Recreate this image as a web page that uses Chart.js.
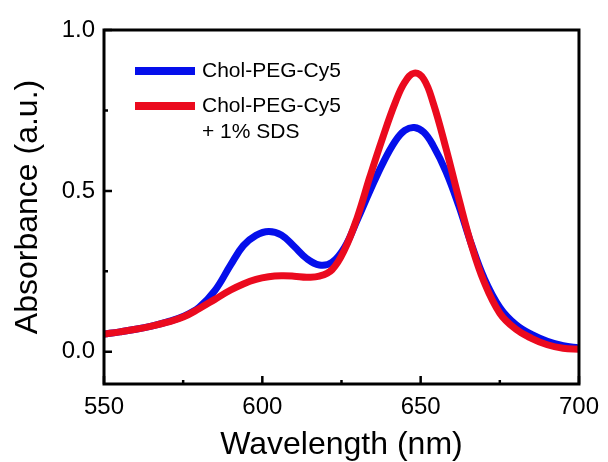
<!DOCTYPE html>
<html>
<head>
<meta charset="utf-8">
<script src="https://cdn.jsdelivr.net/npm/chart.js@4.4.0/dist/chart.umd.min.js"></script>
<style>
  html, body { margin: 0; padding: 0; background: #fff; }
</style>
</head>
<body>
<canvas id="chart" width="608" height="462"></canvas>
<script>
// absorbance spectra
const wavelength = [550, 555, 560, 565, 570, 575, 580, 585, 590, 594, 598, 602, 606, 610, 614, 618, 622, 626, 630, 634, 638, 642, 645, 648, 651, 654, 658, 662, 666, 670, 675, 680, 685, 690, 695, 700];
const absCy5 = [0.055, 0.062, 0.070, 0.080, 0.093, 0.110, 0.138, 0.190, 0.270, 0.330, 0.362, 0.374, 0.363, 0.328, 0.290, 0.270, 0.278, 0.325, 0.410, 0.500, 0.585, 0.655, 0.688, 0.697, 0.682, 0.640, 0.560, 0.455, 0.335, 0.230, 0.138, 0.085, 0.054, 0.033, 0.019, 0.012];
const absCy5Sds = [0.055, 0.062, 0.070, 0.080, 0.092, 0.108, 0.134, 0.163, 0.192, 0.211, 0.225, 0.233, 0.236, 0.235, 0.232, 0.235, 0.255, 0.318, 0.418, 0.545, 0.665, 0.775, 0.838, 0.866, 0.847, 0.772, 0.632, 0.478, 0.333, 0.218, 0.120, 0.071, 0.042, 0.022, 0.011, 0.008];
const seriesNames = [["Chol-PEG-Cy5"], ["Chol-PEG-Cy5", "+ 1% SDS"]];
const seriesColors = ["rgb(5, 15, 235)", "rgb(235, 10, 30)"];

const xTicks = [550, 600, 650, 700];
const xMinor = [575, 625, 675];
const yTicks = [0, 0.5, 1.0];
const yMinor = [0.25, 0.75];

Chart.defaults.font.family = "'Liberation Sans', Arial, sans-serif";
Chart.defaults.color = "#000";

const toPoints = (ys) => wavelength.map((x, i) => ({ x: x, y: ys[i] }));

// box around the plot + inward tick marks
const framePlugin = {
  id: "frame",
  afterDraw(chart) {
    const { ctx, chartArea: a, scales } = chart;
    ctx.save();
    ctx.strokeStyle = "#000";
    ctx.lineWidth = 3;
    ctx.strokeRect(a.left, a.top, a.right - a.left, a.bottom - a.top);
    ctx.lineWidth = 2.5;
    ctx.beginPath();
    const xTick = (v, len) => {
      const px = scales.x.getPixelForValue(v);
      ctx.moveTo(px, a.bottom);
      ctx.lineTo(px, a.bottom - len);
    };
    const yTick = (v, len) => {
      const py = scales.y.getPixelForValue(v);
      ctx.moveTo(a.left, py);
      ctx.lineTo(a.left + len, py);
    };
    xTicks.forEach(v => xTick(v, 8));
    xMinor.forEach(v => xTick(v, 4));
    yTicks.forEach(v => yTick(v, 8));
    yMinor.forEach(v => yTick(v, 4));
    ctx.stroke();
    ctx.restore();
  }
};

// legend inside the plot, second entry on two lines
const legendPlugin = {
  id: "insideLegend",
  afterDraw(chart) {
    const ctx = chart.ctx;
    const rows = [71, 106];
    ctx.save();
    ctx.font = "21px 'Liberation Sans', Arial, sans-serif";
    ctx.textBaseline = "middle";
    ctx.textAlign = "left";
    chart.data.datasets.forEach((ds, i) => {
      const y = rows[i];
      ctx.strokeStyle = ds.borderColor;
      ctx.lineWidth = 8;
      ctx.beginPath();
      ctx.moveTo(135, y);
      ctx.lineTo(195, y);
      ctx.stroke();
      ctx.fillStyle = "#000";
      seriesNames[i].forEach((t, k) => ctx.fillText(t, 202, y + k * 26));
    });
    ctx.restore();
  }
};

new Chart(document.getElementById("chart"), {
  type: "line",
  data: {
    datasets: [
      {
        label: seriesNames[0].join(" "),
        data: toPoints(absCy5),
        borderColor: seriesColors[0],
        borderWidth: 7,
        pointRadius: 0,
        tension: 0.4,
        order: 1
      },
      {
        label: seriesNames[1].join(" "),
        data: toPoints(absCy5Sds),
        borderColor: seriesColors[1],
        borderWidth: 7,
        pointRadius: 0,
        tension: 0.4,
        order: 0
      }
    ]
  },
  options: {
    responsive: false,
    animation: false,
    layout: { padding: { top: 30, right: 26, left: 0, bottom: 0 } },
    plugins: {
      legend: { display: false },
      tooltip: { enabled: false }
    },
    scales: {
      x: {
        type: "linear",
        min: 550,
        max: 700,
        afterBuildTicks: (s) => { s.ticks = xTicks.map(v => ({ value: v })); },
        afterFit: (s) => { s.height = 78; },
        grid: { display: false, drawTicks: false },
        border: { display: false },
        ticks: { font: { size: 24 }, color: "#000", padding: 9, maxRotation: 0, autoSkip: false },
        title: {
          display: true,
          text: "Wavelength (nm)",
          color: "#000",
          font: { size: 32, lineHeight: 1 },
          padding: { top: 0, bottom: 1 }
        }
      },
      y: {
        type: "linear",
        min: -0.1,
        max: 1.0,
        afterBuildTicks: (s) => { s.ticks = yTicks.map(v => ({ value: v })); },
        afterFit: (s) => { s.width = 104; },
        grid: { display: false, drawTicks: false },
        border: { display: false },
        ticks: {
          font: { size: 24 },
          color: "#000",
          padding: 9,
          callback: (v) => Number(v).toFixed(1)
        },
        title: {
          display: true,
          text: "Absorbance (a.u.)",
          color: "#000",
          font: { size: 32, lineHeight: 1 },
          padding: { top: 12, bottom: 0 }
        }
      }
    }
  },
  plugins: [framePlugin, legendPlugin]
});
</script>
</body>
</html>
